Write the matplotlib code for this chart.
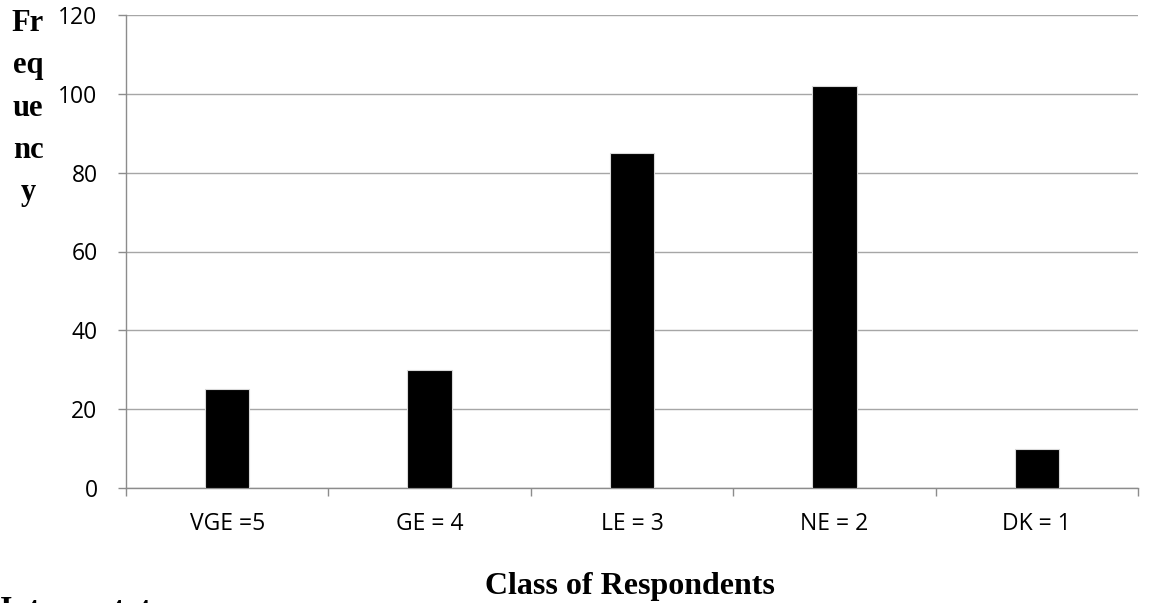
import numpy as np
import matplotlib.pyplot as plt

categories = ["VGE =5", "GE = 4", "LE = 3", "NE = 2", "DK = 1"]
frequency = [25, 30, 85, 102, 10]
y_ticks = [0, 20, 40, 60, 80, 100, 120]

W, H = 1158, 603
fig = plt.figure(figsize=(W / 100, H / 100), dpi=100)
ax = fig.add_axes([126 / W, 1 - 488 / H, (1138 - 126) / W, (488 - 15) / H])

x = np.arange(len(categories))
ax.bar(x, frequency, width=0.22, color="black", edgecolor="#d9d9d9", linewidth=0.8, zorder=3)

ax.set_xlim(-0.5, len(categories) - 0.5)
ax.set_ylim(0, 120)
ax.set_yticks(y_ticks)
ax.yaxis.grid(True, color="#a6a6a6", linewidth=1.0, zorder=0)

# category ticks sit between the bars, labels centred under them
ax.set_xticks(np.arange(-0.5, len(categories)))
ax.set_xticklabels([])
ax.set_xticks(x, minor=True)
ax.set_xticklabels(categories, minor=True)
ax.tick_params(axis="x", which="major", length=6, color="#8c8c8c", width=1)
ax.tick_params(axis="x", which="minor", length=0, pad=17, labelsize=16.5)
ax.tick_params(axis="y", length=5.5, color="#8c8c8c", width=1, labelsize=16.5, pad=15)

for s in ["top", "right"]:
    ax.spines[s].set_visible(False)
for s in ["left", "bottom"]:
    ax.spines[s].set_color("#8c8c8c")
    ax.spines[s].set_linewidth(1)

for lbl in ax.get_xticklabels(minor=True) + ax.get_yticklabels():
    lbl.set_family(["Open Sans", "DejaVu Sans"])

fig.text(28 / W, 1 - 108 / H, "Fr\neq\nue\nnc\ny", ha="center", va="center",
         family="Liberation Serif", weight="bold", fontsize=22, linespacing=1.6)
fig.text(630 / W, 1 - 594 / H, "Class of Respondents", ha="center", va="baseline",
         family="Liberation Serif", weight="bold", fontsize=23)
fig.text(0, 1 - 618 / H, "Interpretat", ha="left", va="baseline",
         family="Liberation Serif", weight="bold", fontsize=23)

fig.savefig("out.png", dpi=100)
